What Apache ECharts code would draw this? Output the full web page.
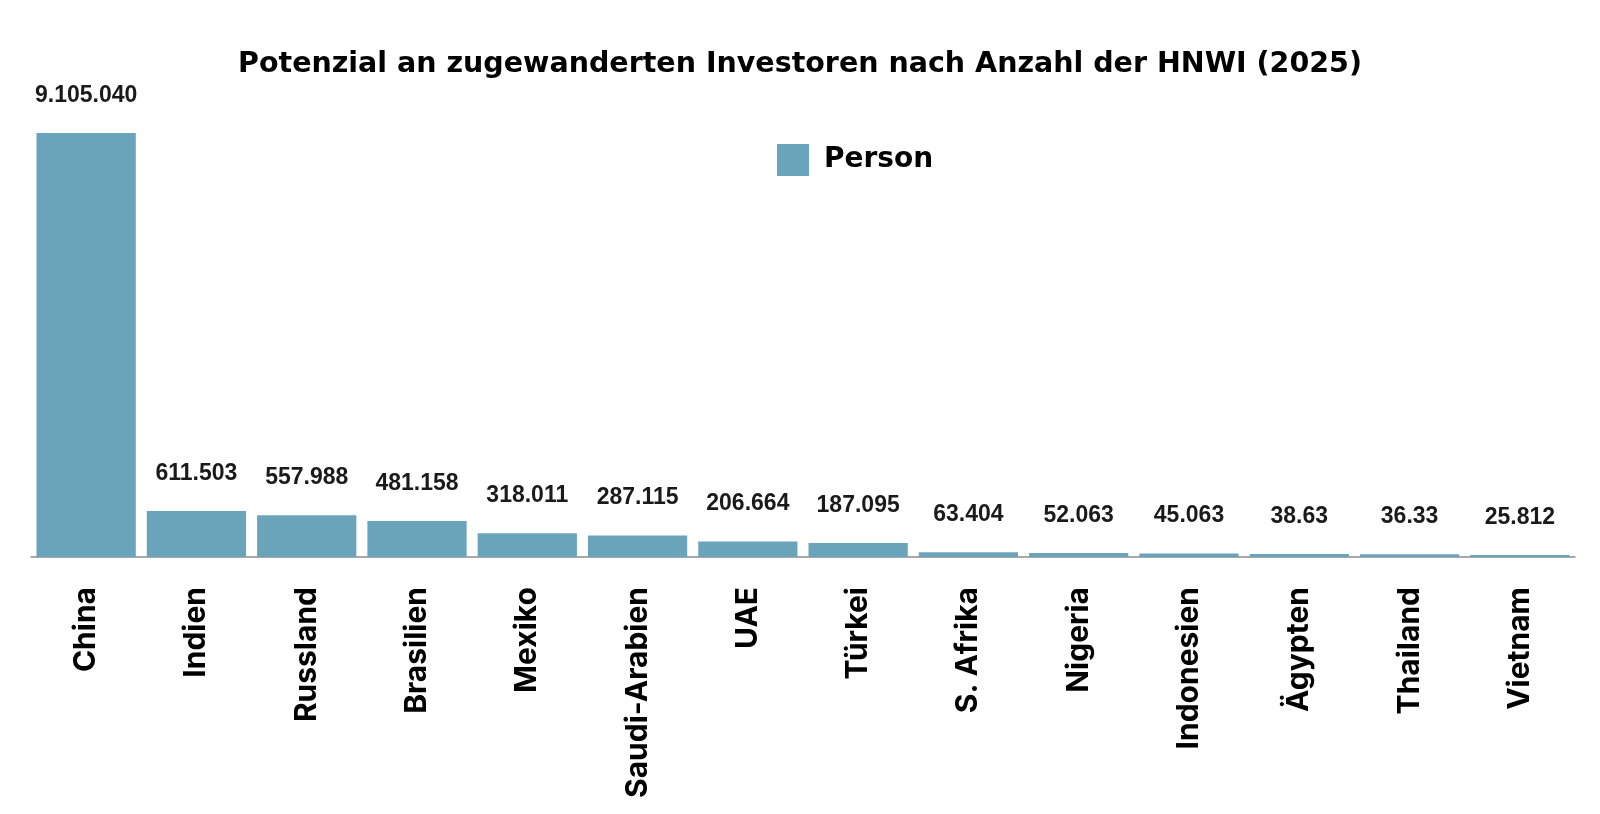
<!DOCTYPE html>
<html>
<head>
<meta charset="utf-8">
<title>HNWI 2025</title>
<script src="https://cdn.jsdelivr.net/npm/echarts@6/dist/echarts.min.js"></script>
<style>
    html, body { margin: 0; padding: 0; background: #fff; }
    #main { width: 1600px; height: 814px; }
</style>
</head>
<body>
<div id="main"></div>
<script>
// Länder (x-Achse)
var laender = ['China', 'Indien', 'Russland', 'Brasilien', 'Mexiko', 'Saudi-Arabien', 'UAE',
    'Türkei', 'S. Afrika', 'Nigeria', 'Indonesien', 'Ägypten', 'Thailand', 'Vietnam'];
// Anzahl HNWI
var personen = [9105040, 611503, 557988, 481158, 318011, 287115, 206664,
    187095, 63404, 52063, 45063, 38630, 36330, 25812];
// Beschriftung wie im Original
var beschriftung = ['9.105.040', '611.503', '557.988', '481.158', '318.011', '287.115', '206.664',
    '187.095', '63.404', '52.063', '45.063', '38.63', '36.33', '25.812'];

var myChart = echarts.init(document.getElementById('main'));

var option = {
    backgroundColor: '#fff',
    animation: false,
    title: {
        text: 'Potenzial an zugewanderten Investoren nach Anzahl der HNWI (2025)',
        left: 'center',
        top: 50,
        padding: 0,
        textStyle: {
            fontFamily: 'DejaVu Sans',
            fontWeight: 'bold',
            fontSize: 28.5,
            color: '#000'
        }
    },
    legend: {
        data: ['Person'],
        left: 772,
        top: 139,
        itemWidth: 32,
        itemHeight: 32,
        icon: 'rect',
        textStyle: {
            fontFamily: 'DejaVu Sans',
            fontWeight: 'bold',
            fontSize: 28,
            color: '#000',
            padding: [0, 0, 0, 10]
        }
    },
    grid: {
        left: 31,
        right: 25,
        top: 133,
        bottom: 257,
        containLabel: false
    },
    xAxis: {
        type: 'category',
        data: laender,
        axisLine: { lineStyle: { color: '#8c8c8c', width: 1.5 } },
        axisTick: { show: false },
        axisLabel: {
            rotate: 90,
            interval: 0,
            margin: 30,
            fontFamily: 'Inter',
            fontWeight: 'bold',
            fontSize: 30,
            color: '#000'
        }
    },
    yAxis: {
        type: 'value',
        min: 0,
        max: 5650000, // China-Balken wird wie im Original oben abgeschnitten
        show: false,
        splitLine: { show: false }
    },
    series: [{
        name: 'Person',
        type: 'bar',
        data: personen,
        barCategoryGap: '10%',
        clip: true,
        itemStyle: { color: '#6aa4bb' },
        label: {
            show: true,
            position: 'top',
            distance: 26,
            fontFamily: "'Liberation Sans', Arial, sans-serif",
            fontWeight: 'bold',
            fontSize: 23,
            color: '#1a1a1a',
            formatter: function (p) {
                return beschriftung[p.dataIndex];
            }
        }
    }]
};

myChart.setOption(option);
</script>
</body>
</html>
